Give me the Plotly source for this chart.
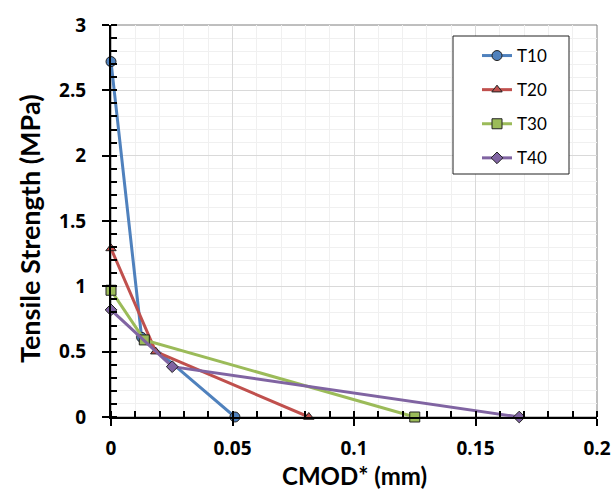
import plotly.graph_objects as go

series_names = ["T10", "T20", "T30", "T40"]
t10_x = [0.0, 0.0126, 0.051]
t10_y = [2.72, 0.61, 0.0]
t20_x = [0.0, 0.0184, 0.0814]
t20_y = [1.29, 0.50, 0.0]
t30_x = [0.0, 0.0137, 0.125]
t30_y = [0.97, 0.59, 0.0]
t40_x = [0.0, 0.0252, 0.168]
t40_y = [0.82, 0.385, 0.0]

x_tick_vals = [0, 0.05, 0.1, 0.15, 0.2]
x_tick_text = ["0", "0.05", "0.1", "0.15", "0.2"]
y_tick_vals = [0, 0.5, 1, 1.5, 2, 2.5, 3]
y_tick_text = ["0", "0.5", "1", "1.5", "2", "2.5", "3"]
x_title = "CMOD* (mm)"
y_title = "Tensile Strength (MPa)"

colors = ["#4F81BD", "#C0504D", "#9BBB59", "#8064A2"]
symbols = ["circle", "triangle-up", "square", "diamond"]
sizes = [10, 9, 10, 9]

xs = [t10_x, t20_x, t30_x, t40_x]
ys = [t10_y, t20_y, t30_y, t40_y]

fig = go.Figure()
for i, name in enumerate(series_names):
    fig.add_trace(go.Scatter(
        x=xs[i], y=ys[i], name=name, mode="lines+markers",
        legendgroup=name,
        line=dict(color=colors[i], width=3),
        marker=dict(symbol=symbols[i], size=sizes[i], color=colors[i],
                    line=dict(color="#222222", width=1)),
        cliponaxis=False,
    ))

font_family = "Lato, Open Sans, Liberation Sans, sans-serif"
tick_family = "Open Sans, Lato, Liberation Sans, sans-serif"

L, R, T, B = 111, 16, 25, 75
W, H = 613, 492
pw, ph = W - L - R, H - T - B

def px_x(p):
    return (p - L) / pw

def px_y(p):
    return (H - B - p) / ph

fig.update_layout(
    width=W, height=H,
    margin=dict(l=L, r=R, t=T, b=B),
    paper_bgcolor="white", plot_bgcolor="white",
    font=dict(family=font_family, color="black"),
    showlegend=True,
    legend=dict(
        x=px_x(477), y=px_y(38), xanchor="left", yanchor="top",
        borderwidth=0, bgcolor="rgba(0,0,0,0)",
        font=dict(size=17, family=font_family),
        tracegroupgap=9,
        itemwidth=30,
    ),
    shapes=[
        dict(type="rect", xref="paper", yref="paper", x0=0, x1=1, y0=0, y1=1,
             line=dict(color="#7f7f7f", width=1), layer="below"),
        dict(type="rect", xref="paper", yref="paper",
             x0=px_x(453), x1=px_x(569), y0=px_y(174), y1=px_y(36),
             line=dict(color="#222222", width=1), fillcolor="white", layer="above"),
    ],
    annotations=[
        dict(text=x_title, xref="paper", yref="paper",
             x=px_x(354), y=px_y(491), xanchor="center", yanchor="bottom",
             borderpad=0, showarrow=False,
             font=dict(size=24, family=font_family, weight="bold")),
        dict(text=y_title, xref="paper", yref="paper", textangle=-90,
             x=px_x(29), y=px_y(229), xanchor="center", yanchor="middle",
             showarrow=False, font=dict(size=27, family=font_family, weight="bold")),
    ],
)

fig.update_xaxes(
    range=[0, 0.2],
    tickvals=x_tick_vals,
    ticktext=x_tick_text,
    tickfont=dict(size=19, family=tick_family, weight="bold"),
    ticks="outside", ticklen=7, tickcolor="black", tickwidth=1.5,
    ticklabelstandoff=6,
    automargin=False,
    showline=True, linecolor="black", linewidth=2,
    showgrid=True, gridcolor="#d9d9d9", gridwidth=1,
    minor=dict(dtick=0.01, tick0=0, ticks="inside", ticklen=6, tickcolor="black",
               showgrid=True, gridcolor="#f0f0f0", gridwidth=1),
    zeroline=False,
)
fig.update_yaxes(
    range=[0, 3],
    tickvals=y_tick_vals,
    ticktext=y_tick_text,
    tickfont=dict(size=19, family=tick_family, weight="bold"),
    ticks="outside", ticklen=7, tickcolor="black", tickwidth=1.5,
    ticklabelstandoff=12,
    automargin=False,
    showline=True, linecolor="black", linewidth=2,
    showgrid=True, gridcolor="#d9d9d9", gridwidth=1,
    minor=dict(dtick=0.1, tick0=0, ticks="inside", ticklen=6, tickcolor="black",
               showgrid=True, gridcolor="#f0f0f0", gridwidth=1),
    zeroline=False,
)

fig.write_html("out.html")
